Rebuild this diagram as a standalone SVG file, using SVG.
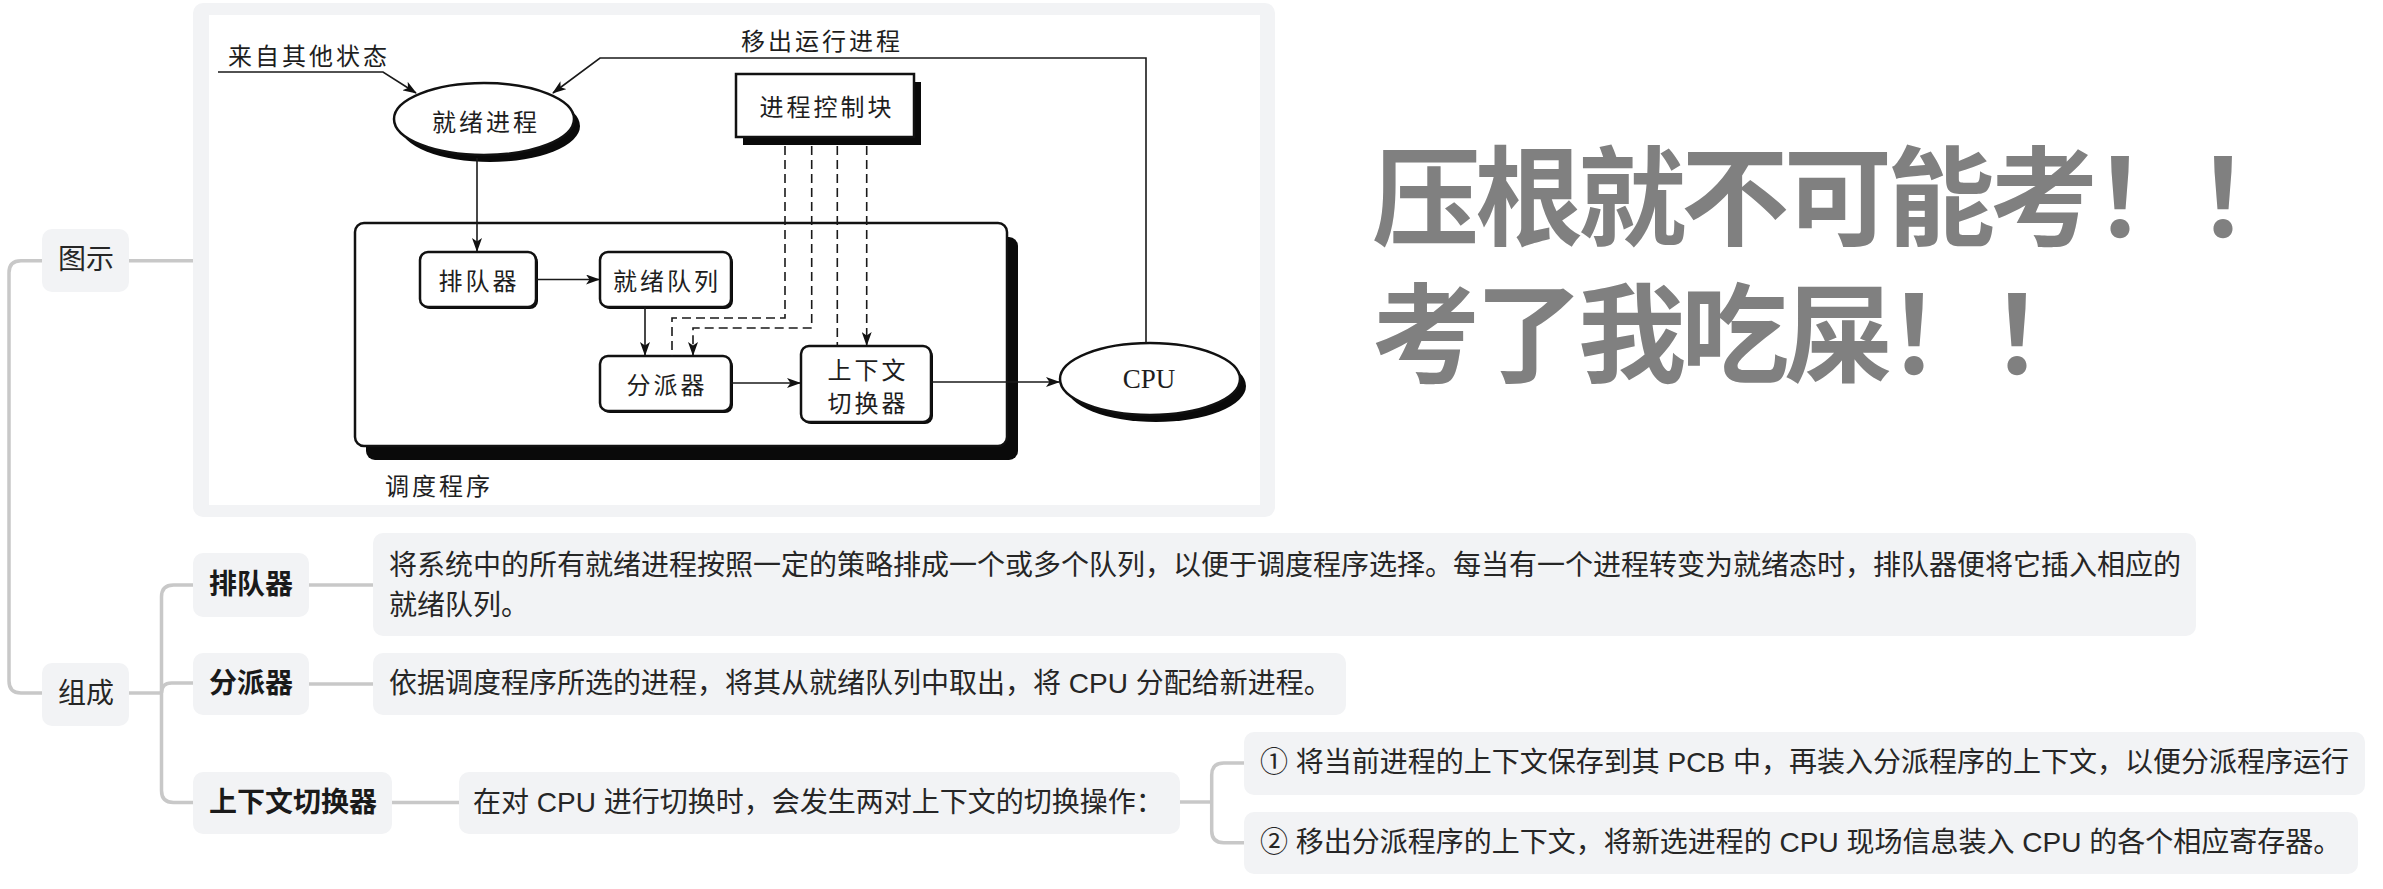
<svg xmlns="http://www.w3.org/2000/svg" width="2383" height="889" viewBox="0 0 2383 889">
<defs>
<style>
.mm{fill:#f2f3f5}
.mt{font-family:"Liberation Sans","Noto Sans CJK SC",sans-serif;font-size:28px;fill:#262626;dominant-baseline:central}
.mb{font-weight:bold;fill:#1a1a1a}
.ml{fill:none;stroke:#c8c8c8;stroke-width:3.5}
.it{font-family:"Noto Sans CJK SC",sans-serif;font-size:24px;letter-spacing:3px;fill:#1e1e1e;dominant-baseline:central}
.ic{text-anchor:middle}
.ib{fill:#fff;stroke:#111;stroke-width:2.5}
.sh{fill:#0a0a0a}
.il{fill:none;stroke:#1a1a1a;stroke-width:1.6}
.dl{fill:none;stroke:#1a1a1a;stroke-width:1.6;stroke-dasharray:9 5}
.big{font-family:"Noto Sans CJK SC",sans-serif;font-weight:bold;font-size:108px;letter-spacing:-5px;fill:#808080;dominant-baseline:central}
</style>
<marker id="ar" viewBox="0 0 14 10" refX="13" refY="5" markerWidth="14" markerHeight="10" markerUnits="userSpaceOnUse" orient="auto">
<path d="M0,0 L14,5 L0,10 L3.5,5 z" fill="#111"/>
</marker>
</defs>

<g id="mindmap-connectors">
<path class="ml" d="M42,260.7 L21,260.7 Q9,260.7 9,272.7 L9,681 Q9,693 21,693 L42,693"/>
<path class="ml" d="M129,260.7 L193,260.7"/>
<path class="ml" d="M129,693 L161.5,693"/>
<path class="ml" d="M193,585 L173.5,585 Q161.5,585 161.5,597 L161.5,790.5 Q161.5,802.5 173.5,802.5 L193,802.5"/>
<path class="ml" d="M161.5,693 Q161.5,683 171.5,683 L193,683"/>
<path class="ml" d="M309,585 L373,585"/>
<path class="ml" d="M309,684 L373,684"/>
<path class="ml" d="M392,802.5 L459,802.5"/>
<path class="ml" d="M1180,802 L1211.7,802"/>
<path class="ml" d="M1244,763 L1223.7,763 Q1211.7,763 1211.7,775 L1211.7,830.7 Q1211.7,842.7 1223.7,842.7 L1244,842.7"/>
</g>

<g id="node-tushi">
<rect class="mm" x="42" y="229" width="87" height="63" rx="10"/>
<text class="mt" x="58" y="259">图示</text>
</g>

<g id="node-zucheng">
<rect class="mm" x="42" y="663" width="87" height="63" rx="10"/>
<text class="mt" x="58" y="693">组成</text>
</g>

<g id="node-image">
<rect class="mm" x="193" y="3" width="1082" height="514" rx="10"/>
<rect x="209" y="15" width="1051" height="490" fill="#fff"/>

<g id="img-scheduler">
<rect class="sh" x="366" y="237" width="652" height="223" rx="9"/>
<rect class="ib" x="355" y="223" width="652" height="223" rx="9"/>
<text class="it" x="385" y="484">调度程序</text>
</g>

<g id="img-ready-process">
<ellipse class="sh" cx="490" cy="126" rx="90" ry="36"/>
<ellipse class="ib" cx="484" cy="119" rx="90" ry="36"/>
<text class="it ic" x="486" y="120">就绪进程</text>
</g>

<g id="img-pcb">
<rect class="sh" x="743" y="82" width="178" height="63"/>
<rect class="ib" x="736" y="74" width="178" height="63"/>
<text class="it ic" x="827" y="105">进程控制块</text>
</g>

<g id="img-queuer">
<rect class="sh" x="422" y="254" width="116" height="55" rx="8"/>
<rect class="ib" x="420" y="252" width="116" height="55" rx="8"/>
<text class="it ic" x="479" y="279">排队器</text>
</g>

<g id="img-ready-queue">
<rect class="sh" x="602" y="254" width="131" height="55" rx="8"/>
<rect class="ib" x="600" y="252" width="131" height="55" rx="8"/>
<text class="it ic" x="667" y="279">就绪队列</text>
</g>

<g id="img-dispatcher">
<rect class="sh" x="602" y="358" width="131" height="55" rx="8"/>
<rect class="ib" x="600" y="356" width="131" height="55" rx="8"/>
<text class="it ic" x="667" y="383">分派器</text>
</g>

<g id="img-switcher">
<rect class="sh" x="803" y="348" width="130" height="76" rx="8"/>
<rect class="ib" x="801" y="346" width="130" height="76" rx="8"/>
<text class="it ic" x="868" y="368">上下文</text>
<text class="it ic" x="868" y="401">切换器</text>
</g>

<g id="img-cpu">
<ellipse class="sh" cx="1156" cy="386" rx="90" ry="36"/>
<ellipse class="ib" cx="1150" cy="379" rx="90" ry="36"/>
<text x="1149" y="379" text-anchor="middle" dominant-baseline="central" font-family="Liberation Serif, serif" font-size="27" fill="#1e1e1e">CPU</text>
</g>

<text class="it" x="228" y="54">来自其他状态</text>
<text class="it" x="741" y="39">移出运行进程</text>

<g id="img-connectors">
<path class="il" d="M218,72 L383,72 L416,93" marker-end="url(#ar)"/>
<path class="il" d="M1146,343 L1146,58 L600,58 L553,93" marker-end="url(#ar)"/>
<path class="il" d="M477,158 L477,251" marker-end="url(#ar)"/>
<path class="il" d="M536,279.5 L599,279.5" marker-end="url(#ar)"/>
<path class="il" d="M645,307 L645,355" marker-end="url(#ar)"/>
<path class="il" d="M731,383 L800,383" marker-end="url(#ar)"/>
<path class="il" d="M931,382 L1059,382" marker-end="url(#ar)"/>
<path class="dl" d="M785,146 L785,318 L672,318 L672,356"/>
<path class="dl" d="M811.7,146 L811.7,328 L693,328 L693,355" marker-end="url(#ar)"/>
<path class="dl" d="M837.3,146 L837.3,346"/>
<path class="dl" d="M866.7,146 L866.7,345" marker-end="url(#ar)"/>
</g>
</g>

<g id="node-queuer">
<rect class="mm" x="193" y="553" width="116" height="64" rx="10"/>
<text class="mt mb" x="209" y="584">排队器</text>
</g>
<g id="node-queuer-desc">
<rect class="mm" x="373" y="533" width="1823" height="103" rx="10"/>
<text class="mt" x="389" y="565">将系统中的所有就绪进程按照一定的策略排成一个或多个队列，以便于调度程序选择。每当有一个进程转变为就绪态时，排队器便将它插入相应的</text>
<text class="mt" x="389" y="605">就绪队列。</text>
</g>

<g id="node-dispatcher">
<rect class="mm" x="193" y="653" width="116" height="62" rx="10"/>
<text class="mt mb" x="209" y="683">分派器</text>
</g>
<g id="node-dispatcher-desc">
<rect class="mm" x="373" y="653" width="973" height="62" rx="10"/>
<text class="mt" x="389" y="683">依据调度程序所选的进程，将其从就绪队列中取出，将 CPU 分配给新进程。</text>
</g>

<g id="node-switcher">
<rect class="mm" x="193" y="772" width="199" height="62" rx="10"/>
<text class="mt mb" x="209" y="802">上下文切换器</text>
</g>
<g id="node-switcher-desc">
<rect class="mm" x="459" y="772" width="721" height="62" rx="10"/>
<text class="mt" x="473" y="802">在对 CPU 进行切换时，会发生两对上下文的切换操作：</text>
</g>

<g id="node-step1">
<rect class="mm" x="1244" y="732" width="1121" height="63" rx="10"/>
<text class="mt" x="1260" y="762">① 将当前进程的上下文保存到其 PCB 中，再装入分派程序的上下文，以便分派程序运行</text>
</g>
<g id="node-step2">
<rect class="mm" x="1244" y="812" width="1114" height="62" rx="10"/>
<text class="mt" x="1260" y="842">② 移出分派程序的上下文，将新选进程的 CPU 现场信息装入 CPU 的各个相应寄存器。</text>
</g>

<g id="big-text">
<text class="big"><tspan x="1372" y="190">压根就不可能考！！</tspan><tspan x="1372" y="327">考了我吃屎！！</tspan></text>
</g>
</svg>
